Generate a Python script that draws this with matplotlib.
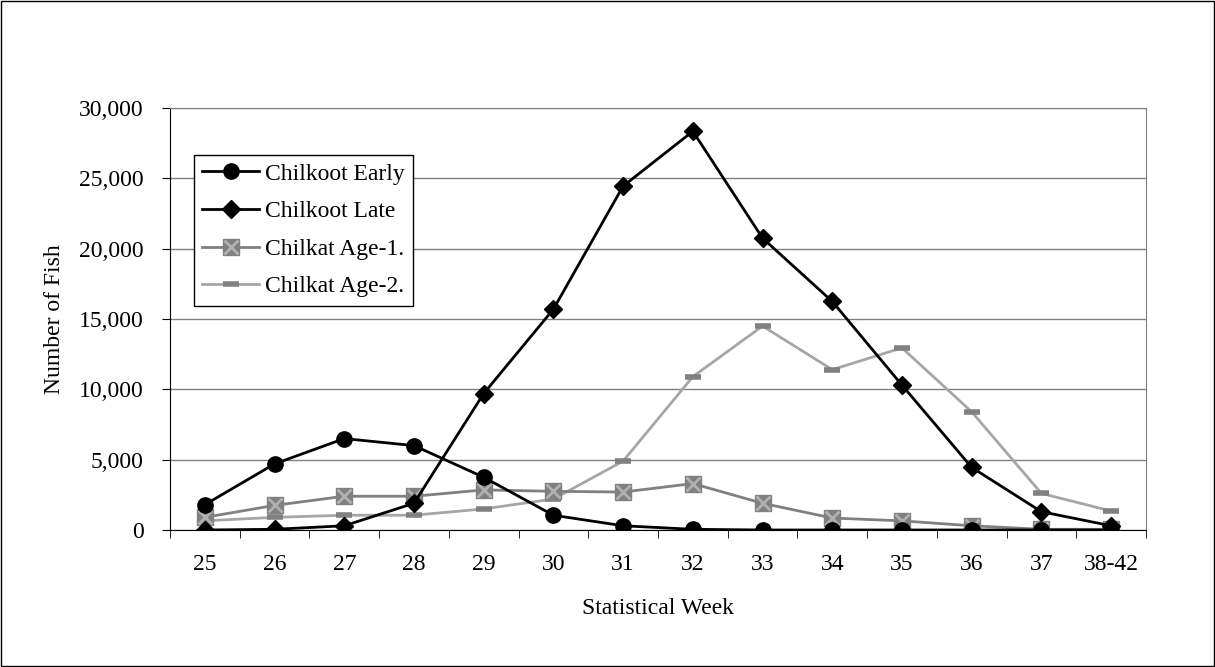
import matplotlib.pyplot as plt
import numpy as np
from matplotlib.legend_handler import HandlerTuple
from matplotlib.ticker import FuncFormatter

plt.rcParams['font.family'] = ['Liberation Serif', 'DejaVu Serif']

weeks = ['25', '26', '27', '28', '29', '30', '31', '32', '33', '34', '35', '36', '37', '38-42']
chilkoot_early = [1800, 4700, 6500, 6000, 3750, 1050, 300, 50, 0, 0, 0, 0, 0, 0]
chilkoot_late = [0, 50, 300, 1900, 9700, 15700, 24450, 28350, 20750, 16250, 10300, 4450, 1300, 300]
chilkat_age1 = [900, 1750, 2400, 2400, 2850, 2750, 2700, 3300, 1900, 850, 650, 300, 50, 50]
chilkat_age2 = [650, 900, 1050, 1050, 1500, 2200, 4900, 10900, 14500, 11400, 12950, 8400, 2600, 1350]

x = np.arange(len(weeks))

fig = plt.figure(figsize=(12.15, 6.67), dpi=100)
ax = fig.add_axes([0.1399, 0.2054, 0.8033, 0.6326])

# borde exterior de la figura
fig.patches.append(plt.Rectangle((0.001, 0.001), 0.998, 0.998, transform=fig.transFigure,
                                 fill=False, edgecolor='black', linewidth=1))

ax.yaxis.grid(True, color='#808080', linewidth=1)
ax.set_axisbelow(True)

l1, = ax.plot(x, chilkoot_early, color='black', lw=2, marker='o', ms=11, zorder=5)
l2, = ax.plot(x, chilkoot_late, color='black', lw=2, marker='D', ms=9, zorder=6)
l3, = ax.plot(x, chilkat_age1, color='#808080', lw=2, marker='s', ms=11, zorder=4)
l3x, = ax.plot(x, chilkat_age1, ls='none', marker='x', ms=10, mew=2, color='#b0b0b0', zorder=4)
l4, = ax.plot(x, chilkat_age2, color='#a6a6a6', lw=2, marker='_', ms=12, mew=4,
              markeredgecolor='#808080', zorder=3)

ax.set_xlim(-0.5, len(weeks) - 0.5)
ax.set_ylim(0, 30000)
ax.set_yticks(np.arange(0, 30001, 5000))
ax.yaxis.set_major_formatter(FuncFormatter(lambda v, p: f'{int(v):,}'))
ax.set_xticks(x)
ax.set_xticklabels(weeks)
ax.set_xticks(np.arange(-0.5, len(weeks), 1), minor=True)
ax.tick_params(axis='x', which='major', length=0, labelsize=17, pad=17)
ax.tick_params(axis='x', which='minor', length=6, direction='out')
ax.tick_params(axis='y', length=6, direction='out', labelsize=17, pad=13)

for s in ['top', 'right']:
    ax.spines[s].set_color('#808080')
ax.spines['left'].set_color('black')
ax.spines['bottom'].set_color('black')

ax.set_xlabel('Statistical Week', fontsize=17)
ax.set_ylabel('Number of Fish', fontsize=17)
ax.xaxis.set_label_coords(0.5, -0.162)
ax.yaxis.set_label_coords(-0.108, 0.5)

leg = ax.legend([l1, l2, (l3, l3x), l4],
                ['Chilkoot Early', 'Chilkoot Late', 'Chilkat Age-1.', 'Chilkat Age-2.'],
                handler_map={tuple: HandlerTuple(ndivide=1, pad=0)},
                loc='upper left', bbox_to_anchor=(0.0246, 0.889), fontsize=17,
                frameon=True, fancybox=False, edgecolor='black', framealpha=1,
                handlelength=2.4, borderpad=0.35, labelspacing=0.68, handletextpad=0.25,
                borderaxespad=0)
leg.get_frame().set_linewidth(1)

fig.savefig('out.png', dpi=100)
